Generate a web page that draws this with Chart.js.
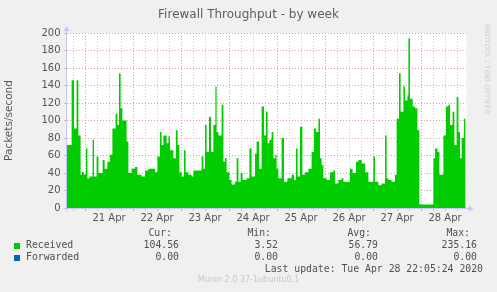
<!DOCTYPE html>
<html>
<head>
<meta charset="utf-8">
<script src="https://cdn.jsdelivr.net/npm/chart.js@4/dist/chart.umd.min.js"></script>
<style>
  body { margin: 0; background: #f0f0f0; }
  #wrap { position: relative; width: 497px; height: 292px; overflow: hidden; background: #f0f0f0; }
  #wrap canvas { position: absolute; left: 0; top: 0; }
  .t { position: absolute; white-space: pre; line-height: 12px; }
  .title { font: 12px "DejaVu Sans"; color: #5f5f5f; left: 0; width: 497px; text-align: center; top: 7px; }
  .mono { font: 9.8px "DejaVu Sans Mono"; color: #505050; }
  .box { position: absolute; width: 6px; height: 6px; }
  .munin { font: 8px "DejaVu Sans"; color: #c8c8c8; left: 0; width: 497px; text-align: center; }
  .rrd { font: 7px "DejaVu Sans"; color: #cfcfcf; left: 482px; top: 24px; writing-mode: vertical-rl; line-height: 10px; }
</style>
</head>
<body>
<div id="wrap">
  <canvas id="chart" width="497" height="292"></canvas>
  <div class="t title">Firewall Throughput - by week</div>
  <div class="t rrd">RRDTOOL / TOBI OETIKER</div>
  <div id="legend"></div>
</div>
<script>
// hours from midnight 21 Apr; each value holds until the next hour mark
const receivedHours = [
  -9.25, -6.7, -5.5, -4.2, -3.3, -2.2, -1.5, -0.5, 0.5, 1.2, 2.2, 3.8, 4.5, 5.8, 6.7, 8.8, 9.8, 11.2,
  12.5, 13.7, 15.3, 16.2, 17.0, 17.8, 18.7, 20.8, 21.7, 23.3, 25.0, 26.2, 28.3, 30.0, 31.7, 35.0, 36.2,
  37.5, 38.3, 39.2, 40.8, 41.7, 42.5, 44.2, 45.5, 46.3, 47.2, 48.3, 49.5, 50.3, 51.7, 53.3, 54.2,
  57.5, 58.3, 59.2, 60.0, 60.8, 62.0, 63.0, 64.2, 65.2, 65.8, 66.7, 68.3, 69.2, 70.0, 70.8, 72.2, 73.3,
  75.0, 75.8, 76.7, 77.8, 78.8, 80.8, 82.2, 83.3, 85.0, 85.8, 87.0, 88.3, 89.5, 90.5, 91.3, 92.2, 93.3,
  94.2, 95.2, 95.8, 96.7, 98.3, 99.5, 101.2, 103.3, 104.5, 105.5, 106.3, 107.5, 108.7, 110.0, 111.7,
  113.3, 114.5, 115.5, 116.7, 117.5, 118.3, 119.2, 120.8,
  122.5, 124.2, 125.0, 126.7, 128.3, 129.2, 132.5, 133.8, 135.5, 136.7, 138.3, 140.0, 141.7, 144.2,
  145.0, 146.7, 148.3, 150.0, 150.8, 151.7, 153.3, 155.0, 155.8, 157.0, 157.8, 159.2, 160.0, 161.2,
  161.7, 162.5, 163.8, 165.0, 166.2, 167.2, 174.2, 175.0, 176.2, 177.2, 179.2, 180.5, 181.7, 182.5,
  183.8, 184.7, 185.8, 186.7, 187.5, 188.3, 189.5, 190.3
]
const receivedValues = [
  72, 146, 91, 146, 83, 38, 41, 38, 68, 34, 36, 78, 36, 59, 40, 55, 45, 53,
  61, 91, 108, 95, 154, 114, 100, 76, 40, 45, 47, 38, 36, 43, 45, 41, 59,
  87, 72, 83, 74, 82, 66, 57, 89, 72, 41, 36, 66, 41, 38, 36, 43,
  43, 59, 45, 95, 64, 104, 64, 95, 139, 87, 83, 118, 53, 57, 41, 32, 27,
  30, 57, 30, 40, 32, 34, 68, 36, 62, 76, 45, 116, 83, 110, 74, 78, 87,
  57, 61, 45, 34, 80, 30, 34, 38, 32, 68, 36, 93, 38, 41, 45,
  64, 91, 87, 102, 57, 49, 34, 32,
  41, 43, 28, 32, 34, 30, 45, 40, 53, 55, 51, 41, 30, 59,
  30, 26, 28, 83, 34, 32, 30, 38, 102, 154, 110, 139, 123, 129,
  194, 125, 116, 114, 89, 4, 57, 68, 64, 38, 83, 116, 118, 95,
  110, 72, 127, 87, 57, 80, 102
]
const forwardedHours = [-9.25, 190.3]
const forwardedValues = [0, 0]

const dayLabels = ["21 Apr", "22 Apr", "23 Apr", "24 Apr", "25 Apr", "26 Apr", "27 Apr", "28 Apr"]
const seriesNames = ["Received", "Forwarded"]
const statHeads = ["Cur:", "Min:", "Avg:", "Max:"]
const statValues = [
  ["104.56", "3.52", "56.79", "235.16"],
  ["0.00", "0.00", "0.00", "0.00"]
]
const lastUpdate = "Last update: Tue Apr 28 22:05:24 2020"
const footer = "Munin 2.0.37-1ubuntu0.1"

const GREEN = "#00cc00"
const BLUE = "#0066b3"
const MAJOR = "rgba(222, 120, 120, 0.75)"
const MINOR = "rgba(190, 190, 190, 0.8)"
const AXIS = "#c6c6f4"

function steps(hours, values) {
  const pts = values.map((v, i) => ({ x: hours[i], y: v }))
  pts.push({ x: hours[hours.length - 1], y: values[values.length - 1] })
  return pts
}

// white plot background
const plotBg = {
  id: "plotBg",
  beforeDraw(chart) {
    const { ctx, chartArea: a } = chart
    ctx.save()
    ctx.fillStyle = "#ffffff"
    ctx.fillRect(a.left, a.top, a.right - a.left, a.bottom - a.top)
    ctx.restore()
  }
}

// axis lines with arrows, drawn over the zero line
const axisArrows = {
  id: "axisArrows",
  afterDatasetsDraw(chart) {
    const { ctx, chartArea: a } = chart
    const l = Math.floor(a.left) + 0.5
    const b = Math.round(a.bottom) + 0.5
    ctx.save()
    ctx.strokeStyle = AXIS
    ctx.fillStyle = AXIS
    ctx.lineWidth = 1
    ctx.beginPath()
    ctx.moveTo(l, b + 3)
    ctx.lineTo(l, a.top - 3)
    ctx.moveTo(l - 3, b)
    ctx.lineTo(a.right + 3, b)
    ctx.stroke()
    ctx.beginPath()
    ctx.moveTo(l - 3, a.top - 2)
    ctx.lineTo(l + 3, a.top - 2)
    ctx.lineTo(l, a.top - 7)
    ctx.closePath()
    ctx.fill()
    ctx.beginPath()
    ctx.moveTo(a.right + 2, b - 3)
    ctx.lineTo(a.right + 2, b + 3)
    ctx.lineTo(a.right + 7, b)
    ctx.closePath()
    ctx.fill()
    ctx.restore()
  }
}

new Chart(document.getElementById("chart"), {
  type: "line",
  data: {
    datasets: [
      {
        label: seriesNames[0],
        data: steps(receivedHours, receivedValues),
        stepped: "before",
        borderWidth: 0,
        borderColor: GREEN,
        backgroundColor: GREEN,
        fill: "origin",
        pointRadius: 0
      },
      {
        label: seriesNames[1],
        data: steps(forwardedHours, forwardedValues),
        borderWidth: 1,
        borderColor: BLUE,
        fill: false,
        pointRadius: 0
      }
    ]
  },
  options: {
    responsive: false,
    animation: false,
    events: [],
    layout: { padding: { top: 33, right: 30.5, left: 0, bottom: 64 } },
    plugins: { legend: { display: false }, tooltip: { enabled: false } },
    scales: {
      x: {
        type: "linear",
        min: -9.25,
        max: 190.75,
        afterFit: (s) => { s.height = 20 },
        afterBuildTicks: (s) => {
          const t = []
          for (let h = -6; h <= 186; h += 6) t.push({ value: h })
          s.ticks = t
        },
        ticks: {
          autoSkip: false,
          maxRotation: 0,
          padding: 1,
          color: "#555555",
          font: { family: "DejaVu Sans", size: 10 },
          callback: (v) => (((v % 24) + 24) % 24 === 12 ? dayLabels[(v - 12) / 24] || "" : "")
        },
        grid: {
          color: (c) => (c.tick && c.tick.value % 24 === 0 ? MAJOR : MINOR),
          tickLength: 3,
          lineWidth: 1
        },
        border: { display: false, dash: [1, 2] }
      },
      y: {
        min: 0,
        max: 200,
        afterFit: (s) => { s.width = 66.5 },
        ticks: {
          stepSize: 10,
          padding: 4,
          color: "#555555",
          font: { family: "DejaVu Sans", size: 10 },
          callback: (v) => (v % 20 === 0 ? String(v) : "")
        },
        grid: {
          color: (c) => (c.tick && c.tick.value % 20 === 0 ? MAJOR : MINOR),
          tickLength: 2,
          lineWidth: 1
        },
        border: { display: false, dash: [1, 2] },
        title: {
          display: true,
          text: "Packets/second",
          color: "#555555",
          font: { family: "DejaVu Sans", size: 10.5 },
          padding: { top: 3, bottom: 0 }
        }
      }
    }
  },
  plugins: [plotBg, axisArrows]
})

// legend block under the plot
const legend = document.getElementById("legend")
const colRight = [179, 278, 378, 477]
const colors = [GREEN, BLUE]
function addText(cls, text, top, opts) {
  const d = document.createElement("div")
  d.className = "t " + cls
  d.textContent = text
  d.style.top = top + "px"
  if (opts.left != null) d.style.left = opts.left + "px"
  if (opts.right != null) { d.style.right = (497 - opts.right) + "px"; d.style.textAlign = "right" }
  legend.appendChild(d)
}
statHeads.forEach((h, i) => addText("mono", h, 226.5, { right: colRight[i] - 7 }))
seriesNames.forEach((name, r) => {
  const top = 238.5 + r * 12.3
  const box = document.createElement("div")
  box.className = "box"
  box.style.left = "14px"
  box.style.top = (top + 4) + "px"
  box.style.background = colors[r]
  legend.appendChild(box)
  addText("mono", name, top, { left: 26 })
  statValues[r].forEach((v, i) => addText("mono", v, top, { right: colRight[i] }))
})
addText("mono", lastUpdate, 263, { right: 483 })
const f = document.createElement("div")
f.className = "t munin"
f.textContent = footer
f.style.top = "275px"
legend.appendChild(f)
</script>
</body>
</html>
